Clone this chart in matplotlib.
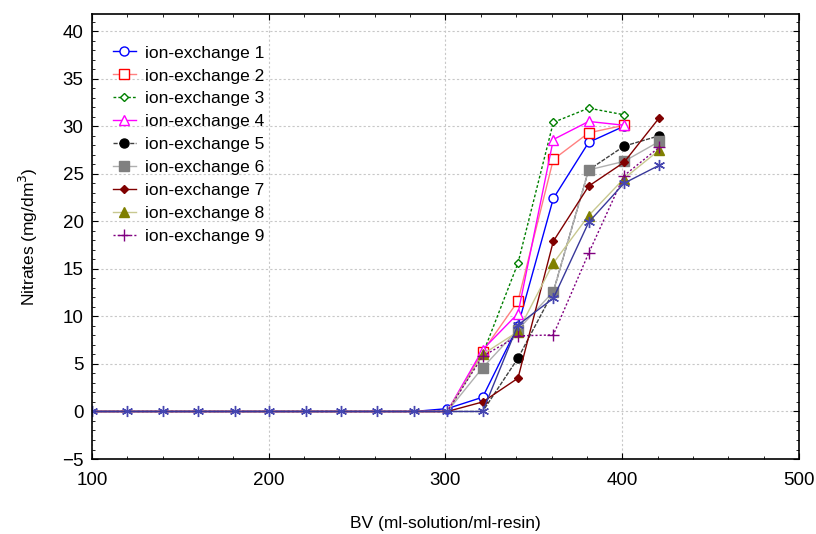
import matplotlib

matplotlib.use("Agg")
import matplotlib.pyplot as plt
from matplotlib.lines import Line2D
from matplotlib.ticker import MultipleLocator

plt.rcParams["font.family"] = ["Liberation Sans", "DejaVu Sans"]

# BV values (ml-solution/ml-resin)
bv = [100, 120, 140, 160, 181, 200, 221, 241, 261, 282, 301, 321, 341, 361, 381, 401, 421]

zeros = [0.0] * 10
ie1 = zeros + [0.3, 1.5, 9.0, 22.4, 28.3, 30.0]
ie2 = zeros + [0.0, 6.3, 11.6, 26.5, 29.3, 30.1]
ie3 = zeros + [0.0, 6.0, 15.6, 30.4, 31.9, 31.2]
ie4 = zeros + [0.0, 6.5, 10.3, 28.6, 30.5, 30.1]
ie5 = zeros + [0.0, 0.0, 5.6, 12.6, 25.4, 27.9, 29.0]
ie6 = zeros + [0.0, 4.6, 8.6, 12.6, 25.4, 26.3, 28.4]
ie7 = zeros + [0.0, 1.0, 3.5, 17.9, 23.7, 26.2, 30.9]
ie8 = zeros + [0.0, 6.0, 8.4, 15.6, 20.6, 24.5, 27.5]
ie9 = zeros + [0.0, 5.8, 7.95, 8.05, 16.65, 24.8, 27.8]
ie10 = zeros + [0.0, 0.0, 9.1, 11.9, 19.9, 24.0, 25.9]

# (data, label, line colour, marker, marker colour, filled, linestyle)
series = [
    (ie1, "ion-exchange 1", "#0000ff", "o", "#0000ff", False, "-"),
    (ie2, "ion-exchange 2", "#ff8080", "s", "#ff0000", False, "-"),
    (ie3, "ion-exchange 3", "#008000", "D", "#008000", False, (0, (2, 1.5))),
    (ie4, "ion-exchange 4", "#ff00ff", "^", "#ff00ff", False, "-"),
    (ie5, "ion-exchange 5", "#404040", "o", "#000000", True, (0, (3, 1))),
    (ie6, "ion-exchange 6", "#b0b0b0", "s", "#808080", True, "-"),
    (ie7, "ion-exchange 7", "#800000", "D", "#800000", True, "-"),
    (ie8, "ion-exchange 8", "#c8c890", "^", "#808000", True, "-"),
    (ie9, "ion-exchange 9", "#800080", "+", "#800080", True, (0, (1.5, 1.5))),
    (ie10, None, "#38389a", (6, 2, 0), "#4646b0", True, "-"),
]
sizes = {"o": 6.5, "s": 6.5, "D": 4.5, "^": 6.5, "+": 8}

fig = plt.figure(figsize=(8.16, 5.34), dpi=100)
ax = fig.add_axes([0.1127, 0.1404, 0.8665, 0.8334])

handles = []
for data, label, lc, mk, mc, filled, ls in series:
    is_star = not isinstance(mk, str)
    style = dict(
        color=lc,
        linestyle=ls,
        linewidth=1.0,
        marker=mk,
        markersize=8 if is_star else sizes[mk],
        markeredgecolor=mc,
        markerfacecolor=mc if filled else "white",
        markeredgewidth=1.0,
    )
    # only the asterisk series shows markers on the flat zero baseline
    every = None if is_star else [i for i, v in enumerate(data) if v != 0]
    ax.plot(bv[: len(data)], data, markevery=every, **style)
    if label:
        handles.append(Line2D([], [], label=label, **style))

ax.set_xlim(100, 500)
ax.set_ylim(-5, 41.8)
ax.xaxis.set_major_locator(MultipleLocator(100))
ax.xaxis.set_minor_locator(MultipleLocator(20))
ax.yaxis.set_major_locator(MultipleLocator(5))
ax.yaxis.set_minor_locator(MultipleLocator(1))
ax.tick_params(which="both", direction="in", top=True, right=True, labelsize=13.5)
ax.tick_params(which="major", length=4)
ax.tick_params(which="minor", length=2.5)
ax.tick_params(axis="x", pad=9)
ax.tick_params(axis="y", pad=6)
ax.grid(True, which="major", linestyle=(0, (2, 2)), color="#c8c8c8", linewidth=0.8)
ax.set_axisbelow(True)
for sp in ax.spines.values():
    sp.set_linewidth(1.2)

ax.set_xlabel("BV (ml-solution/ml-resin)", fontsize=12.5, labelpad=20)
ax.set_ylabel("Nitrates (mg/dm$^3$)", fontsize=12.5, labelpad=16)

ax.legend(
    handles=handles,
    loc="upper left",
    bbox_to_anchor=(0.02, 0.945),
    frameon=False,
    fontsize=12.5,
    handlelength=1.3,
    handletextpad=0.55,
    labelspacing=0.45,
    borderaxespad=0.0,
)

fig.savefig("out.png", dpi=100)
